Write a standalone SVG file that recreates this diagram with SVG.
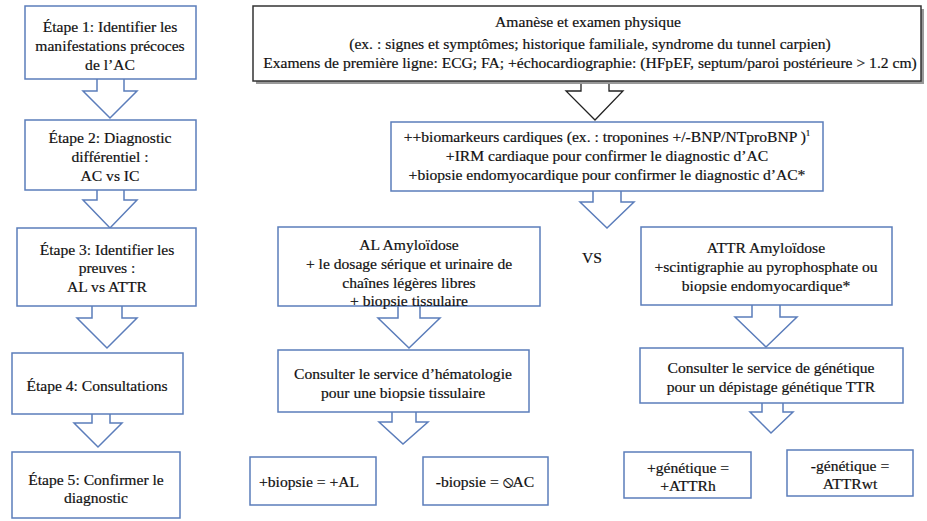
<svg xmlns="http://www.w3.org/2000/svg" width="927" height="521" viewBox="0 0 927 521">
<defs>
<style>
.bx{fill:#fff;stroke:#5b7dbb;stroke-width:1.5}
.ar{fill:#fff;stroke:#5b7dbb;stroke-width:1.5;stroke-linejoin:miter}
.arb{fill:#fff;stroke:#222;stroke-width:1.3}
.t{font-size:15.6px;fill:#111;stroke:#111;stroke-width:0.2;text-anchor:middle}
</style>
</defs>
<rect width="927" height="521" fill="#fff"/>
<g id="connectors">
<path class="ar" d="M97,77 V91 H83 L110,118 L137,91 H124 V77"/>
<path class="ar" d="M97,188 V200 H83 L110,228 L137,200 H124 V188"/>
<path class="ar" d="M92,304 V318 H77 L107,348 L137,318 H122 V304"/>
<path class="ar" d="M92,412 V423 H74 L98,447 L122,423 H110 V412"/>
<path class="arb" d="M581,79 V91 H566 L595,120 L623,91 H609 V79"/>
<path class="ar" d="M593,189 V202 H580 L607,228 L634,202 H621 V189"/>
<path class="ar" d="M398,304 V318 H378 L409,348 L440,318 H420 V304"/>
<path class="ar" d="M392,410 V422 H379 L403,444 L428,422 H416 V410"/>
<path class="ar" d="M752,303 V317 H735 L766,347 L797,317 H780 V303"/>
<path class="ar" d="M762,401 V412 H750 L771,433 L793,412 H783 V401"/>
</g>
<g class="t" font-family="'Liberation Serif', 'Times New Roman', 'DejaVu Serif', serif">
<g id="etape1"><rect class="bx" x="25" y="6" width="171" height="73"/>
<text x="110" y="32">Étape 1: Identifier les</text><text x="110" y="51">manifestations précoces</text><text x="110" y="70">de l’AC</text></g>
<g id="etape2"><rect class="bx" x="25" y="120" width="171" height="70"/>
<text x="110" y="143">Étape 2: Diagnostic</text><text x="110" y="162">différentiel :</text><text x="110" y="181">AC vs IC</text></g>
<g id="etape3"><rect class="bx" x="17" y="228" width="179" height="78"/>
<text x="107" y="255">Étape 3: Identifier les</text><text x="107" y="273">preuves :</text><text x="107" y="292">AL vs ATTR</text></g>
<g id="etape4"><rect class="bx" x="12" y="353" width="171" height="61"/>
<text x="97" y="391">Étape 4: Consultations</text></g>
<g id="etape5"><rect class="bx" x="12" y="452" width="168" height="66"/>
<text x="96" y="485">Étape 5: Confirmer le</text><text x="96" y="503">diagnostic</text></g>
<g id="anamnese"><rect x="256" y="9" width="668" height="75" fill="#999" stroke="none"/><rect x="253" y="6" width="668" height="75" fill="#fff" stroke="#333" stroke-width="1.5"/>
<text x="588" y="27">Amanèse et examen physique</text>
<text x="590" y="49">(ex. : signes et symptômes; historique familiale, syndrome du tunnel carpien)</text>
<text x="590" y="68">Examens de première ligne: ECG; FA; +échocardiographie: (HFpEF, septum/paroi postérieure &gt; 1.2 cm)</text></g>
<g id="biomarqueurs"><rect class="bx" x="391" y="122" width="432" height="69"/>
<text x="607" y="142">++biomarkeurs cardiques (ex. : troponines +/-BNP/NTproBNP )<tspan font-size="9" dy="-6">1</tspan></text>
<text x="607" y="161">+IRM cardiaque pour confirmer le diagnostic d’AC</text>
<text x="607" y="180">+biopsie endomyocardique pour confirmer le diagnostic d’AC*</text></g>
<g id="al"><rect class="bx" x="278" y="227" width="262" height="79"/>
<text x="409" y="250">AL Amyloïdose</text><text x="409" y="269">+ le dosage sérique et urinaire de</text><text x="409" y="288">chaînes légères libres</text><text x="409" y="306">+ biopsie tissulaire</text></g>
<text x="592" y="263">VS</text>
<g id="attr"><rect class="bx" x="641" y="227" width="251" height="78"/>
<text x="766" y="253">ATTR Amyloïdose</text><text x="766" y="272">+scintigraphie au pyrophosphate ou</text><text x="766" y="291">biopsie endomyocardique*</text></g>
<g id="hemato"><rect class="bx" x="278" y="350" width="251" height="62"/>
<text x="403" y="379">Consulter le service d’hématologie</text><text x="403" y="398">pour une biopsie tissulaire</text></g>
<g id="genetique"><rect class="bx" x="640" y="348" width="263" height="55"/>
<text x="771" y="373">Consulter le service de génétique</text><text x="771" y="392">pour un dépistage génétique TTR</text></g>
<g id="biopsie_pos"><rect class="bx" x="250" y="457" width="126" height="48"/>
<text x="309" y="487">+biopsie = +AL</text></g>
<g id="biopsie_neg"><rect class="bx" x="423" y="457" width="125" height="48"/>
<text x="485" y="487">-biopsie = ⦸AC</text></g>
<g id="genetique_pos"><rect class="bx" x="624" y="452" width="127" height="46"/>
<text x="688" y="473">+génétique =</text><text x="688" y="491">+ATTRh</text></g>
<g id="genetique_neg"><rect class="bx" x="787" y="450" width="126" height="46"/>
<text x="850" y="471">-génétique =</text><text x="850" y="489">ATTRwt</text></g>
</g>
</svg>
